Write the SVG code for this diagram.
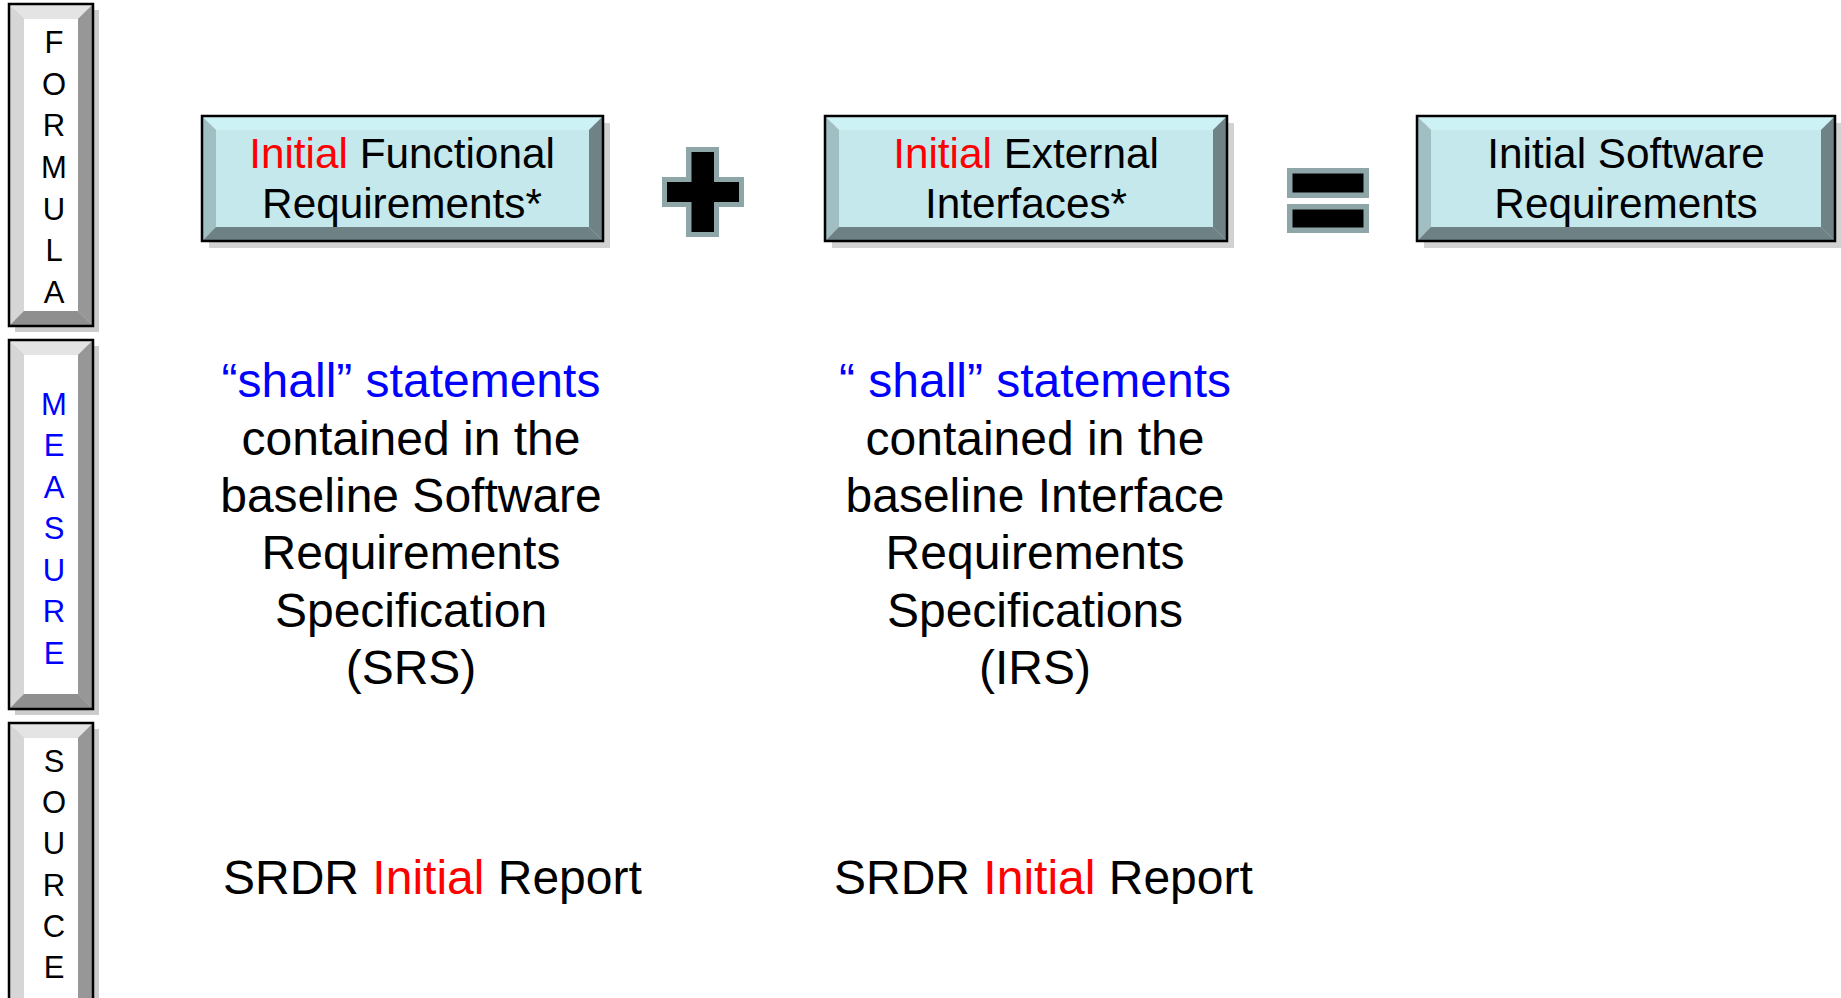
<svg xmlns="http://www.w3.org/2000/svg" width="1841" height="998" viewBox="0 0 1841 998">
<style>
text{font-family:"Liberation Sans",Arial,sans-serif}
.side{font-size:31px;text-anchor:middle}
.box{font-size:42.3px;text-anchor:middle;fill:#000}
.body{font-size:48px;text-anchor:middle;fill:#000}
.src{font-size:48px;fill:#000}
.red{fill:#ff0000}
.blue{fill:#0000ff}
.sb-sh{fill:#cccccc}
.sb-top{fill:#e4e4e4}
.sb-left{fill:#d6d6d6}
.sb-right{fill:#979797}
.sb-bot{fill:#8f8f8f}
.sb-face{fill:#ffffff}
.border{fill:none;stroke:#000;stroke-width:2.5}
.cb-sh{fill:#d2d2d2}
.cb-top{fill:#cdf2f6}
.cb-left{fill:#a1bfc2}
.cb-right{fill:#6f8386}
.cb-bot{fill:#6e8184}
.cb-face{fill:#c4e8ec}
.op-out{fill:#8ea6a8}
.op-in{fill:#000}
</style>

<g id="formula">
<rect class="sb-sh" x="15" y="10" width="84" height="322"/>
<polygon class="sb-top" points="9,4 93,4 78,19 24,19"/>
<polygon class="sb-left" points="9,4 24,19 24,311 9,326"/>
<polygon class="sb-right" points="93,4 78,19 78,311 93,326"/>
<polygon class="sb-bot" points="9,326 24,311 78,311 93,326"/>
<rect class="sb-face" x="24" y="19" width="54" height="292"/>
<rect class="border" x="9" y="4" width="84" height="322"/>
<text class="side" x="54" y="53">F</text>
<text class="side" x="54" y="95">O</text>
<text class="side" x="54" y="136">R</text>
<text class="side" x="54" y="178">M</text>
<text class="side" x="54" y="220">U</text>
<text class="side" x="54" y="261">L</text>
<text class="side" x="54" y="303">A</text>
</g>

<g id="measure">
<rect class="sb-sh" x="15" y="346" width="84" height="369"/>
<polygon class="sb-top" points="9,340 93,340 78,355 24,355"/>
<polygon class="sb-left" points="9,340 24,355 24,694 9,709"/>
<polygon class="sb-right" points="93,340 78,355 78,694 93,709"/>
<polygon class="sb-bot" points="9,709 24,694 78,694 93,709"/>
<rect class="sb-face" x="24" y="355" width="54" height="339"/>
<rect class="border" x="9" y="340" width="84" height="369"/>
<text class="side blue" x="54" y="415">M</text>
<text class="side blue" x="54" y="456">E</text>
<text class="side blue" x="54" y="498">A</text>
<text class="side blue" x="54" y="539">S</text>
<text class="side blue" x="54" y="581">U</text>
<text class="side blue" x="54" y="622">R</text>
<text class="side blue" x="54" y="664">E</text>
</g>

<g id="source">
<rect class="sb-sh" x="15" y="729" width="84" height="290"/>
<polygon class="sb-top" points="9,723 93,723 78,738 24,738"/>
<polygon class="sb-left" points="9,723 24,738 24,998 9,1013"/>
<polygon class="sb-right" points="93,723 78,738 78,998 93,1013"/>
<polygon class="sb-bot" points="9,1013 24,998 78,998 93,1013"/>
<rect class="sb-face" x="24" y="738" width="54" height="260"/>
<rect class="border" x="9" y="723" width="84" height="290"/>
<text class="side" x="54" y="772">S</text>
<text class="side" x="54" y="813">O</text>
<text class="side" x="54" y="854">U</text>
<text class="side" x="54" y="896">R</text>
<text class="side" x="54" y="937">C</text>
<text class="side" x="54" y="978">E</text>
</g>

<g id="box-functional">
<rect class="cb-sh" x="209" y="123" width="401" height="125"/>
<polygon class="cb-top" points="202,116 603,116 589,130 216,130"/>
<polygon class="cb-left" points="202,116 216,130 216,227 202,241"/>
<polygon class="cb-right" points="603,116 589,130 589,227 603,241"/>
<polygon class="cb-bot" points="202,241 216,227 589,227 603,241"/>
<rect class="cb-face" x="216" y="130" width="373" height="97"/>
<rect class="border" x="202" y="116" width="401" height="125"/>
<text class="box" x="402" y="168"><tspan class="red">Initial</tspan> Functional</text>
<text class="box" x="402" y="218">Requirements*</text>
</g>

<g id="plus">
<polygon class="op-out" points="686,147 719,147 719,177 744,177 744,207 719,207 719,237 686,237 686,207 662,207 662,177 686,177"/>
<polygon class="op-in" points="691.5,152 714,152 714,182 739,182 739,202 714,202 714,232 691.5,232 691.5,202 667,202 667,182 691.5,182"/>
</g>

<g id="box-external">
<rect class="cb-sh" x="832" y="123" width="402" height="125"/>
<polygon class="cb-top" points="825,116 1227,116 1213,130 839,130"/>
<polygon class="cb-left" points="825,116 839,130 839,227 825,241"/>
<polygon class="cb-right" points="1227,116 1213,130 1213,227 1227,241"/>
<polygon class="cb-bot" points="825,241 839,227 1213,227 1227,241"/>
<rect class="cb-face" x="839" y="130" width="374" height="97"/>
<rect class="border" x="825" y="116" width="402" height="125"/>
<text class="box" x="1026" y="168"><tspan class="red">Initial</tspan> External</text>
<text class="box" x="1026" y="218">Interfaces*</text>
</g>

<g id="equals">
<rect class="op-out" x="1287" y="168" width="82" height="30"/>
<rect class="op-in" x="1292.5" y="173.5" width="71" height="19"/>
<rect class="op-out" x="1287" y="204" width="82" height="29"/>
<rect class="op-in" x="1292.5" y="209.5" width="71" height="18"/>
</g>

<g id="box-software">
<rect class="cb-sh" x="1424" y="123" width="418" height="125"/>
<polygon class="cb-top" points="1417,116 1835,116 1821,130 1431,130"/>
<polygon class="cb-left" points="1417,116 1431,130 1431,227 1417,241"/>
<polygon class="cb-right" points="1835,116 1821,130 1821,227 1835,241"/>
<polygon class="cb-bot" points="1417,241 1431,227 1821,227 1835,241"/>
<rect class="cb-face" x="1431" y="130" width="390" height="97"/>
<rect class="border" x="1417" y="116" width="418" height="125"/>
<text class="box" x="1626" y="168">Initial Software</text>
<text class="box" x="1626" y="218">Requirements</text>
</g>

<g id="measure-srs">
<text class="body blue" x="411" y="397">“shall” statements</text>
<text class="body" x="411" y="455">contained in the</text>
<text class="body" x="411" y="512">baseline Software</text>
<text class="body" x="411" y="569">Requirements</text>
<text class="body" x="411" y="627">Specification</text>
<text class="body" x="411" y="684">(SRS)</text>
</g>

<g id="measure-irs">
<text class="body blue" x="1035" y="397">“ shall” statements</text>
<text class="body" x="1035" y="455">contained in the</text>
<text class="body" x="1035" y="512">baseline Interface</text>
<text class="body" x="1035" y="569">Requirements</text>
<text class="body" x="1035" y="627">Specifications</text>
<text class="body" x="1035" y="684">(IRS)</text>
</g>

<g id="source-srs">
<text class="src" x="223" y="894">SRDR <tspan class="red">Initial</tspan> Report</text>
</g>

<g id="source-irs">
<text class="src" x="834" y="894">SRDR <tspan class="red">Initial</tspan> Report</text>
</g>

<g id="connectors"></g>
</svg>
